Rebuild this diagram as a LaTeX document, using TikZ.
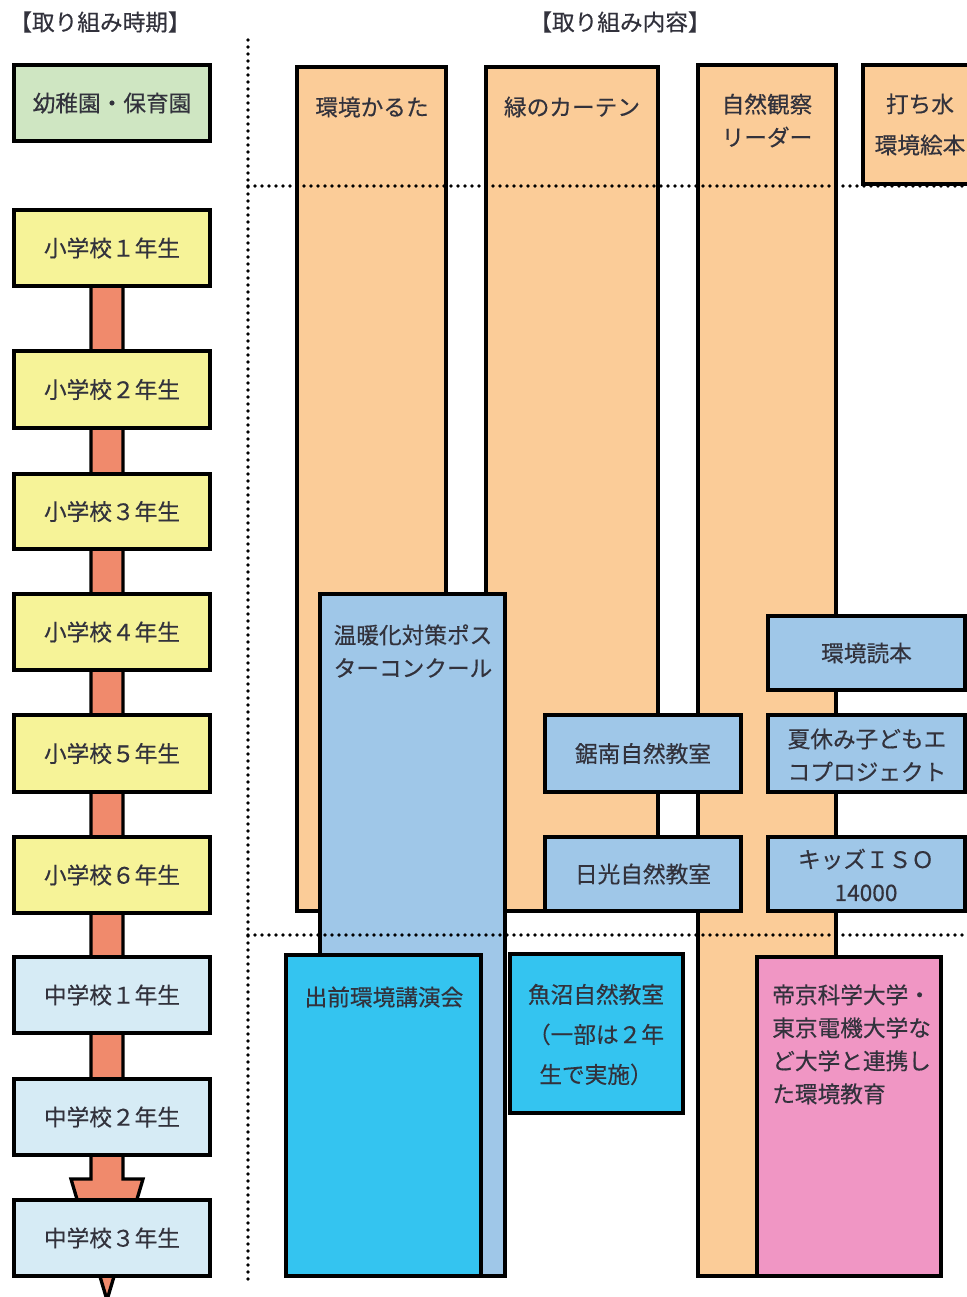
\documentclass[tikz,border=0pt]{standalone}
\usepackage{fontspec}
\newfontfamily\jp{Noto Sans CJK JP}[FakeBold=0.4]
\definecolor{cgreen}{RGB}{207,230,194}
\definecolor{cyellow}{RGB}{246,243,152}
\definecolor{cpale}{RGB}{214,235,245}
\definecolor{csalmon}{RGB}{240,138,108}
\definecolor{corange}{RGB}{251,204,152}
\definecolor{cblue}{RGB}{159,199,232}
\definecolor{ccyan}{RGB}{52,196,240}
\definecolor{cpink}{RGB}{240,150,196}
\definecolor{ctext}{RGB}{50,50,60}
\newcommand\bx[6]{\node[#6, anchor=north west, minimum width={(#4-#2-4)*0.75pt}, minimum height={(#5-#3-4)*0.75pt}] (#1) at (#2+2,#3+2) {};}
\tikzset{
  boxbase/.style={draw=black, line width=3pt, inner sep=0pt, outer sep=0pt, rectangle},
  greenbox/.style={boxbase, fill=cgreen},
  yellowbox/.style={boxbase, fill=cyellow},
  palebox/.style={boxbase, fill=cpale},
  orangebox/.style={boxbase, fill=corange},
  bluebox/.style={boxbase, fill=cblue},
  cyanbox/.style={boxbase, fill=ccyan},
  pinkbox/.style={boxbase, fill=cpink},
  txt/.style={text=ctext, inner sep=0pt, font=\jp\fontsize{17}{24.75}\selectfont},
  dotline/.style={line width=2.7pt, line cap=round, dash pattern=on 0pt off 5.25pt, draw=black},
  arrowshape/.style={draw=black, line width=2.5pt, fill=csalmon, line join=miter}
}
\begin{document}
\begin{tikzpicture}[x=0.75pt,y=-0.75pt]
\useasboundingbox (0,0) rectangle (967,1297);
\clip (0,0) rectangle (967,1297);

% headers
\node[txt] (h1) at (100,22) {【取り組み時期】};
\node[txt] (h2) at (620,22) {【取り組み内容】};

% timeline arrow
\coordinate (atop) at (107,270);
\coordinate (tip) at (107,1300);
\draw[arrowshape] (91,270) -- (91,1179) -- (71,1179) -- (tip) -- (143,1179) -- (123,1179) -- (123,270) -- cycle;

% left column
\bx{k}{12}{63}{212}{143}{greenbox}
\bx{e1}{12}{208}{212}{288}{yellowbox}
\bx{e2}{12}{349}{212}{430}{yellowbox}
\bx{e3}{12}{472}{212}{551}{yellowbox}
\bx{e4}{12}{592}{212}{672}{yellowbox}
\bx{e5}{12}{713}{212}{794}{yellowbox}
\bx{e6}{12}{835}{212}{915}{yellowbox}
\bx{j1}{12}{955}{212}{1035}{palebox}
\bx{j2}{12}{1077}{212}{1157}{palebox}
\bx{j3}{12}{1198}{212}{1278}{palebox}
\node[txt] (kt) at (k.center) {幼稚園・保育園};
\node[txt] (e1t) at (e1.center) {小学校１年生};
\node[txt] (e2t) at (e2.center) {小学校２年生};
\node[txt] (e3t) at (e3.center) {小学校３年生};
\node[txt] (e4t) at (e4.center) {小学校４年生};
\node[txt] (e5t) at (e5.center) {小学校５年生};
\node[txt] (e6t) at (e6.center) {小学校６年生};
\node[txt] (j1t) at (j1.center) {中学校１年生};
\node[txt] (j2t) at (j2.center) {中学校２年生};
\node[txt] (j3t) at (j3.center) {中学校３年生};

% orange columns
\bx{c1}{295}{65}{448}{913}{orangebox}
\bx{c2}{484}{65}{660}{913}{orangebox}
\bx{c3}{696}{63}{838}{1278}{orangebox}
\bx{c4}{861}{63}{990}{186}{orangebox}
\node[txt] (c1t) at (372,107) {環境かるた};
\node[txt] (c2t) at (572,107) {緑のカーテン};
\node[txt, align=center] (c3t) at (767,120.5) {自然観察\\リーダー};
\node[txt, align=center, font=\jp\fontsize{17}{30.75}\selectfont] (c4t) at (920,124.5) {打ち水\\環境絵本};

% blue boxes
\bx{poster}{318}{592}{507}{1278}{bluebox}
\node[txt, align=center] (postert) at (413,651) {温暖化対策ポス\\ターコンクール};
\bx{dokuhon}{766}{614}{967}{692}{bluebox}
\node[txt] (dokuhont) at (dokuhon.center) {環境読本};
\bx{kyonan}{543}{713}{743}{794}{bluebox}
\node[txt] (kyonant) at (kyonan.center) {鋸南自然教室};
\bx{natsu}{766}{713}{967}{794}{bluebox}
\node[txt, align=left] (natsut) at (867,755) {夏休み子どもエ\\コプロジェクト};
\bx{nikko}{543}{835}{743}{913}{bluebox}
\node[txt] (nikkot) at (nikko.center) {日光自然教室};
\bx{kids}{766}{835}{967}{913}{bluebox}
\node[txt, align=center] (kidst) at (866,875) {キッズＩＳＯ\\14000};

% cyan and pink boxes
\bx{demae}{284}{953}{483}{1278}{cyanbox}
\node[txt] (demaet) at (384,997) {出前環境講演会};
\bx{uonuma}{508}{952}{685}{1115}{cyanbox}
\node[txt, align=center, font=\jp\fontsize{17}{30}\selectfont] (uonumat) at (596,1034.5) {魚沼自然教室\\（一部は２年\\生で実施）};
\bx{teikyo}{755}{955}{943}{1278}{pinkbox}
\node[txt, align=left, anchor=north west] (teikyot) at (772,984) {帝京科学大学・\\東京電機大学な\\ど大学と連携し\\た環境教育};

% dotted separators
\coordinate (v1) at (248,40);
\coordinate (v2) at (248,1280);
\coordinate (a1) at (248,186);
\coordinate (a2) at (970,186);
\coordinate (b1) at (248,935);
\coordinate (b2) at (970,935);
\draw[dotline] (v1) -- (v2);
\draw[dotline] (a1) -- (a2);
\draw[dotline] (b1) -- (b2);
\end{tikzpicture}
\end{document}
